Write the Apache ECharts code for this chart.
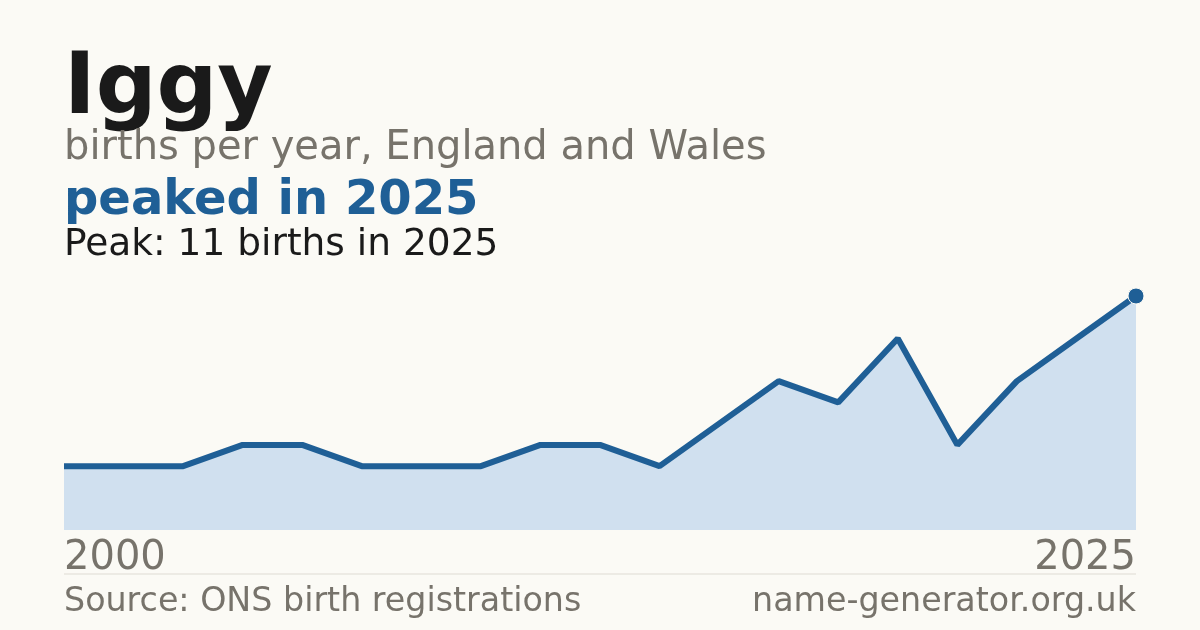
<!DOCTYPE html>
<html>
<head>
<meta charset="utf-8">
<style>
  html, body { margin: 0; padding: 0; background: #fbfaf5; }
  #chart { width: 1200px; height: 630px; }
</style>
<script src="https://cdn.jsdelivr.net/npm/echarts@6/dist/echarts.min.js"></script>
</head>
<body>
<div id="chart"></div>
<script>
// years with a published count (years under 3 births are not shown)
var years = ['2000', '2001', '2003', '2004', '2005', '2007', '2008', '2009', '2010', '2012',
  '2013', '2014', '2016', '2017', '2018', '2020', '2021', '2023', '2025'];
var births = [3, 3, 3, 4, 4, 3, 3, 3, 4, 4, 3, 5, 7, 6, 9, 4, 7, 9, 11];

var FONT = 'DejaVu Sans';
var chart = echarts.init(document.getElementById('chart'));

var lastIdx = years.length - 1;

function txt(text, pos, size, weight, color) {
  return Object.assign({
    text: text,
    padding: 0,
    textStyle: { fontFamily: FONT, fontSize: size, fontWeight: weight, color: color }
  }, pos);
}

var option = {
  backgroundColor: '#fbfaf5',
  animation: false,
  title: [
    txt('Iggy', { left: 64, top: 48 }, 85, 'bold', '#1a1a1a'),
    txt('births per year, England and Wales', { left: 64, top: 129 }, 40, 'normal', '#77736b'),
    txt('peaked in 2025', { left: 64, top: 178 }, 48, 'bold', '#1f5f96'),
    txt('Peak: 11 births in 2025', { left: 64, top: 226 }, 37.5, 'normal', '#1a1a1a'),
    txt('Source: ONS birth registrations', { left: 64, top: 586 }, 33.3, 'normal', '#77736b'),
    txt('name-generator.org.uk', { right: 64, top: 586 }, 33.3, 'normal', '#77736b')
  ],
  grid: { left: 64, right: 64, top: 296, bottom: 100, containLabel: false },
  xAxis: {
    type: 'category',
    data: years,
    boundaryGap: false,
    axisLine: { show: false },
    axisTick: { show: false },
    splitLine: { show: false },
    axisLabel: {
      interval: function (i) { return i === 0 || i === lastIdx; },
      margin: 9,
      fontFamily: FONT,
      fontSize: 40,
      color: '#77736b',
      alignMinLabel: 'left',
      alignMaxLabel: 'right'
    }
  },
  yAxis: {
    type: 'value',
    min: 0,
    max: 11,
    show: false,
    splitLine: { show: false }
  },
  graphic: [
    {
      type: 'line',
      shape: { x1: 64, y1: 574, x2: 1136, y2: 574 },
      style: { stroke: '#dedbd3', lineWidth: 1 }
    }
  ],
  series: [
    {
      type: 'line',
      data: births,
      symbol: 'none',
      lineStyle: { color: '#1f5f96', width: 6 },
      areaStyle: { color: '#d0e0ef', opacity: 1 },
      markPoint: {
        symbol: 'circle',
        symbolSize: 16,
        itemStyle: { color: '#1f5f96', borderColor: '#fbfaf5', borderWidth: 1 },
        label: { show: false },
        data: [{ coord: [lastIdx, births[lastIdx]] }]
      }
    }
  ]
};

chart.setOption(option);
</script>
</body>
</html>
